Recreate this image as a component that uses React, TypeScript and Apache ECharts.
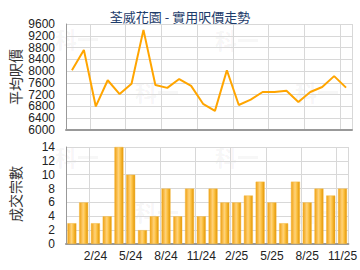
import React, { useEffect, useRef } from "react";
import * as echarts from "echarts";

const months = [
  "12/23", "1/24", "2/24", "3/24", "4/24", "5/24", "6/24", "7/24", "8/24", "9/24", "10/24", "11/24",
  "12/24", "1/25", "2/25", "3/25", "4/25", "5/25", "6/25", "7/25", "8/25", "9/25", "10/25", "11/25",
];
const avgPrice = [
  8030, 8720, 6800, 7690, 7220, 7570, 9400, 7530, 7430, 7730, 7500, 6890,
  6650, 8030, 6850, 7030, 7290, 7290, 7330, 6950, 7290, 7460, 7830, 7440,
];
const deals = [3, 6, 3, 4, 14, 10, 2, 4, 8, 4, 8, 4, 8, 6, 6, 7, 9, 6, 3, 9, 6, 8, 7, 8];
const titleText = "荃威花園 - 實用呎價走勢";
const priceAxisName = "平均呎價";
const dealAxisName = "成交宗數";
const priceMin = 6000;
const priceMax = 9600;
const priceStep = 400;

const FONT = "'Liberation Sans', Arial, sans-serif";
const CJK = "'Noto Sans CJK TC', sans-serif";
const showIdx = (i: number) => i % 3 === 2;

export default function App() {
  const ref = useRef<HTMLDivElement>(null);
  useEffect(() => {
    const chart = echarts.init(ref.current!, null, { renderer: "svg" });
    const barColor = new echarts.graphic.LinearGradient(0, 0, 1, 0, [
      { offset: 0, color: "#EFA010" },
      { offset: 0.45, color: "#FFD27A" },
      { offset: 0.6, color: "#FFC850" },
      { offset: 1, color: "#E39500" },
    ]);
    const wm = (x: number, y: number) => ({
      type: "text",
      left: x,
      top: y,
      silent: true,
      z: 0,
      style: { text: "科一", fill: "rgba(0,0,0,0.05)", font: `bold 22px ${CJK}` },
    });
    const labelBase = { color: "#222", fontSize: 12, fontFamily: FONT, margin: 11 };
    const TOP = 24;
    const H = 106;
    const pxPerStep = (H * priceStep) / (priceMax - priceMin);
    const hiddenX = (gridIndex: number) => ({
      type: "category",
      gridIndex,
      data: months,
      show: false,
    });
    const labelAxis = (gridIndex: number, min: number, max: number, skip: number) => ({
      type: "value",
      gridIndex,
      min,
      max,
      interval: priceStep * 2,
      axisLine: { show: false },
      axisTick: { show: false },
      splitLine: { show: false },
      axisLabel: { ...labelBase, lineHeight: 10, formatter: (v: number) => (v === skip ? "" : String(v)) },
    });
    chart.setOption({
      animation: false,
      title: {
        text: titleText,
        left: "center",
        top: 5,
        textStyle: { fontFamily: CJK, fontSize: 13, fontWeight: "normal", color: "#1d3c6b" },
      },
      graphic: [
        wm(55, 27), wm(215, 28), wm(135, 80), wm(295, 80),
        wm(55, 145), wm(215, 145), wm(135, 200), wm(295, 200),
        {
          type: "text",
          x: 15,
          y: 77,
          rotation: Math.PI / 2,
          style: { text: priceAxisName, fill: "#333", font: `14px ${CJK}`, align: "center", verticalAlign: "middle" },
        },
        {
          type: "text",
          x: 15,
          y: 194,
          rotation: Math.PI / 2,
          style: { text: dealAxisName, fill: "#333", font: `14px ${CJK}`, align: "center", verticalAlign: "middle" },
        },
      ],
      grid: [
        { left: 66, right: 8, top: TOP, height: H },
        { left: 66, right: 8, top: 147, height: 97 },
        { left: 66, right: 8, top: TOP - pxPerStep, height: H + pxPerStep },
        { left: 66, right: 8, top: TOP, height: H + pxPerStep },
      ],
      xAxis: [
        {
          type: "category",
          gridIndex: 0,
          data: months,
          boundaryGap: true,
          axisLine: { lineStyle: { color: "#999", width: 2 } },
          axisTick: { show: false },
          axisLabel: { show: false },
          splitLine: { show: true, interval: (i: number) => showIdx(i), lineStyle: { color: "#d8d8d8" } },
        },
        {
          type: "category",
          gridIndex: 1,
          data: months,
          boundaryGap: true,
          axisLine: { lineStyle: { color: "#999", width: 2 } },
          axisTick: { show: false },
          axisLabel: {
            interval: (i: number) => showIdx(i),
            color: "#222",
            fontSize: 12,
            fontFamily: FONT,
            margin: 6,
          },
          splitLine: { show: true, interval: (i: number) => showIdx(i), lineStyle: { color: "#d8d8d8" } },
        },
        hiddenX(2),
        hiddenX(3),
      ],
      yAxis: [
        {
          type: "value",
          gridIndex: 0,
          min: priceMin,
          max: priceMax,
          interval: priceStep,
          axisLine: { show: true, lineStyle: { color: "#999", width: 1 } },
          axisTick: { show: false },
          axisLabel: { show: false },
          splitLine: { lineStyle: { color: "#d8d8d8" } },
        },
        {
          type: "value",
          gridIndex: 1,
          min: 0,
          max: 14,
          interval: 2,
          axisLine: { show: true, lineStyle: { color: "#999", width: 1 } },
          axisTick: { show: false },
          axisLabel: { ...labelBase, formatter: (v: number) => String(v) },
          splitLine: { lineStyle: { color: "#d8d8d8" } },
        },
        labelAxis(2, priceMin, priceMax + priceStep, priceMax + priceStep),
        labelAxis(3, priceMin - priceStep, priceMax, priceMin - priceStep),
      ],
      series: [
        {
          type: "line",
          xAxisIndex: 0,
          yAxisIndex: 0,
          data: avgPrice,
          symbol: "none",
          lineStyle: { color: "#FFA500", width: 2 },
          z: 3,
        },
        {
          type: "bar",
          xAxisIndex: 1,
          yAxisIndex: 1,
          data: deals,
          barWidth: 9,
          itemStyle: { color: barColor, borderColor: "#F5B840", borderWidth: 0.5 },
          z: 3,
        },
      ],
    });
    return () => chart.dispose();
  }, []);
  return <div ref={ref} style={{ width: 360, height: 270, position: "absolute", left: 0, top: 0, background: "#fff" }} />;
}
